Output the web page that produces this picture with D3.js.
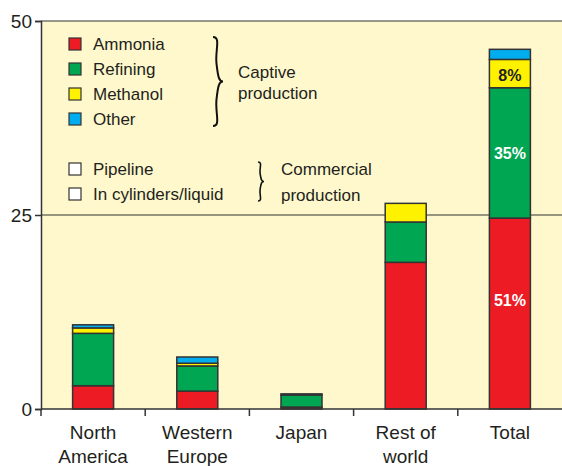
<!DOCTYPE html>
<html>
<head>
<meta charset="utf-8">
<script src="https://cdn.jsdelivr.net/npm/d3@7"></script>
<style>
  html, body { margin: 0; padding: 0; background: #fff; }
  svg { display: block; font-family: "Liberation Sans", Arial, Helvetica, sans-serif; }
</style>
</head>
<body>
<svg id="chart" width="562" height="466"></svg>
<script>
// Hydrogen production by region (million tonnes), stacked by end use
const regions = ["North America", "Western Europe", "Japan", "Rest of world", "Total"];
const regionLines = [["North", "America"], ["Western", "Europe"], ["Japan"], ["Rest of", "world"], ["Total"]];
const ammonia  = [3.0, 2.3, 0.25, 18.9, 24.6];
const refining = [6.75, 3.25, 1.55, 5.2, 16.8];
const methanol = [0.7, 0.35, 0.0, 2.4, 3.65];
const other    = [0.4, 0.8, 0.15, 0.0, 1.3];
const seriesNames = ["Ammonia", "Refining", "Methanol", "Other"];
const seriesColors = ["#ED1C24", "#00A651", "#FFF200", "#00AEEF"];
const commercialNames = ["Pipeline", "In cylinders/liquid"];
const yTicks = [0, 25, 50];
// share labels on the Total bar (pos = fraction of the segment height from its bottom)
const shareLabels = [
  { series: "Ammonia", text: "51%", color: "#fff", pos: 0.57 },
  { series: "Refining", text: "35%", color: "#fff", pos: 0.5 },
  { series: "Methanol", text: "8%", color: "#231F20", pos: 0.45 }
];

(function draw() {
  const rows = regions.map((r, i) => ({
    region: r, Ammonia: ammonia[i], Refining: refining[i], Methanol: methanol[i], Other: other[i]
  }));

  const svg = d3.select("#chart");
  const mLeft = 41, mRight = 562, mTop = 21, mBottom = 409;
  const ink = "#231F20";

  const x = d3.scaleBand().domain(regions).range([mLeft, mRight]).paddingInner(0).paddingOuter(0);
  const y = d3.scaleLinear().domain([0, 50]).range([mBottom, mTop]);
  const color = d3.scaleOrdinal().domain(seriesNames).range(seriesColors);

  // plot background
  svg.append("rect").attr("x", mLeft).attr("y", mTop)
    .attr("width", mRight - mLeft).attr("height", mBottom - mTop)
    .attr("fill", "#FEF8CC");

  // reference lines at 25 and 50
  svg.selectAll("line.ref").data([25, 50]).join("line")
    .attr("class", "ref")
    .attr("x1", mLeft).attr("x2", mRight)
    .attr("y1", d => y(d)).attr("y2", d => y(d))
    .attr("stroke", "#333").attr("stroke-width", 1.2);

  // stacked bars
  const stacked = d3.stack().keys(seriesNames)(rows);
  const barW = 41;
  const layers = svg.append("g").selectAll("g").data(stacked).join("g")
    .attr("fill", d => color(d.key));
  layers.selectAll("rect").data(d => d.filter(s => s[1] - s[0] > 0)).join("rect")
    .attr("x", d => x(d.data.region) + x.bandwidth() / 2 - barW / 2)
    .attr("width", barW)
    .attr("y", d => y(d[1]))
    .attr("height", d => y(d[0]) - y(d[1]))
    .attr("stroke", "#333").attr("stroke-width", 1.5);

  // share labels inside the Total bar
  const totalIdx = regions.indexOf("Total");
  shareLabels.forEach(l => {
    const layer = stacked.find(s => s.key === l.series)[totalIdx];
    svg.append("text")
      .attr("x", x("Total") + x.bandwidth() / 2)
      .attr("y", y(layer[0] + (layer[1] - layer[0]) * l.pos))
      .attr("dy", "0.35em")
      .attr("text-anchor", "middle")
      .attr("font-size", 16).attr("font-weight", "bold")
      .attr("fill", l.color)
      .text(l.text);
  });

  // y axis
  const yAxis = svg.append("g").attr("transform", `translate(${mLeft},0)`)
    .call(d3.axisLeft(y).tickValues(yTicks).tickSize(6).tickPadding(3));
  yAxis.select(".domain").attr("stroke", "#333").attr("stroke-width", 1.5);
  yAxis.selectAll(".tick line").attr("stroke", "#333").attr("stroke-width", 1.5);
  yAxis.selectAll(".tick text").attr("font-size", 19).attr("fill", ink)
    .attr("font-family", "'Liberation Sans', Arial, sans-serif");

  // x axis: baseline, ticks at band edges, two-line labels at centres
  const xAxis = svg.append("g");
  xAxis.append("line").attr("x1", mLeft).attr("x2", mRight)
    .attr("y1", mBottom).attr("y2", mBottom)
    .attr("stroke", "#333").attr("stroke-width", 1.5);
  const edges = regions.map(r => x(r));
  xAxis.selectAll("line.tick").data(edges).join("line")
    .attr("class", "tick")
    .attr("x1", d => d).attr("x2", d => d)
    .attr("y1", mBottom).attr("y2", mBottom + 7)
    .attr("stroke", "#333").attr("stroke-width", 1.5);
  xAxis.selectAll("text").data(regions).join("text")
    .attr("x", d => x(d) + x.bandwidth() / 2)
    .attr("y", 439)
    .attr("text-anchor", "middle")
    .attr("font-size", 19).attr("fill", ink)
    .each(function(d, i) {
      d3.select(this).selectAll("tspan").data(regionLines[i]).join("tspan")
        .attr("x", x(d) + x.bandwidth() / 2)
        .attr("dy", (t, j) => j === 0 ? 0 : 24)
        .text(t => t);
    });

  // legend
  const legend = svg.append("g");
  const sw = 12, lx = 69;
  const legendItems = seriesNames.map((n, i) => ({ name: n, fill: color(n), cy: 44 + i * 25 }))
    .concat(commercialNames.map((n, i) => ({ name: n, fill: "#fff", cy: 169 + i * 25 })));
  legend.selectAll("rect").data(legendItems).join("rect")
    .attr("x", lx).attr("y", d => d.cy - sw / 2)
    .attr("width", sw).attr("height", sw)
    .attr("fill", d => d.fill).attr("stroke", "#333").attr("stroke-width", 1.2);
  legend.selectAll("text").data(legendItems).join("text")
    .attr("x", 93).attr("y", d => d.cy).attr("dy", "0.36em")
    .attr("font-size", 17).attr("fill", ink)
    .text(d => d.name);

  // curly brace pointing right, spanning y0..y1 at x0
  function brace(x0, y0, y1, w) {
    const m = (y0 + y1) / 2, h = (y1 - y0) / 2;
    return `M${x0},${y0}` +
      `C${x0 + w * 0.8},${y0} ${x0 + w * 0.2},${y0 + h * 0.3} ${x0 + w * 0.35},${y0 + h * 0.6}` +
      `C${x0 + w * 0.5},${m - h * 0.1} ${x0 + w * 0.6},${m} ${x0 + w},${m}` +
      `C${x0 + w * 0.6},${m} ${x0 + w * 0.5},${m + h * 0.1} ${x0 + w * 0.35},${y1 - h * 0.6}` +
      `C${x0 + w * 0.2},${y1 - h * 0.3} ${x0 + w * 0.8},${y1} ${x0},${y1}`;
  }
  svg.append("path").attr("d", brace(213, 37, 126, 10))
    .attr("fill", "none").attr("stroke", "#111").attr("stroke-width", 2);
  svg.append("path").attr("d", brace(258, 162, 201, 6))
    .attr("fill", "none").attr("stroke", "#111").attr("stroke-width", 1.6);

  const groupLabels = [
    { lines: ["Captive", "production"], x: 238, y: 72, gap: 21 },
    { lines: ["Commercial", "production"], x: 281, y: 169, gap: 26 }
  ];
  groupLabels.forEach(g => {
    g.lines.forEach((t, j) => {
      svg.append("text").attr("x", g.x).attr("y", g.y + j * g.gap)
        .attr("dy", "0.36em").attr("font-size", 17).attr("fill", ink).text(t);
    });
  });
})();
</script>
</body>
</html>
